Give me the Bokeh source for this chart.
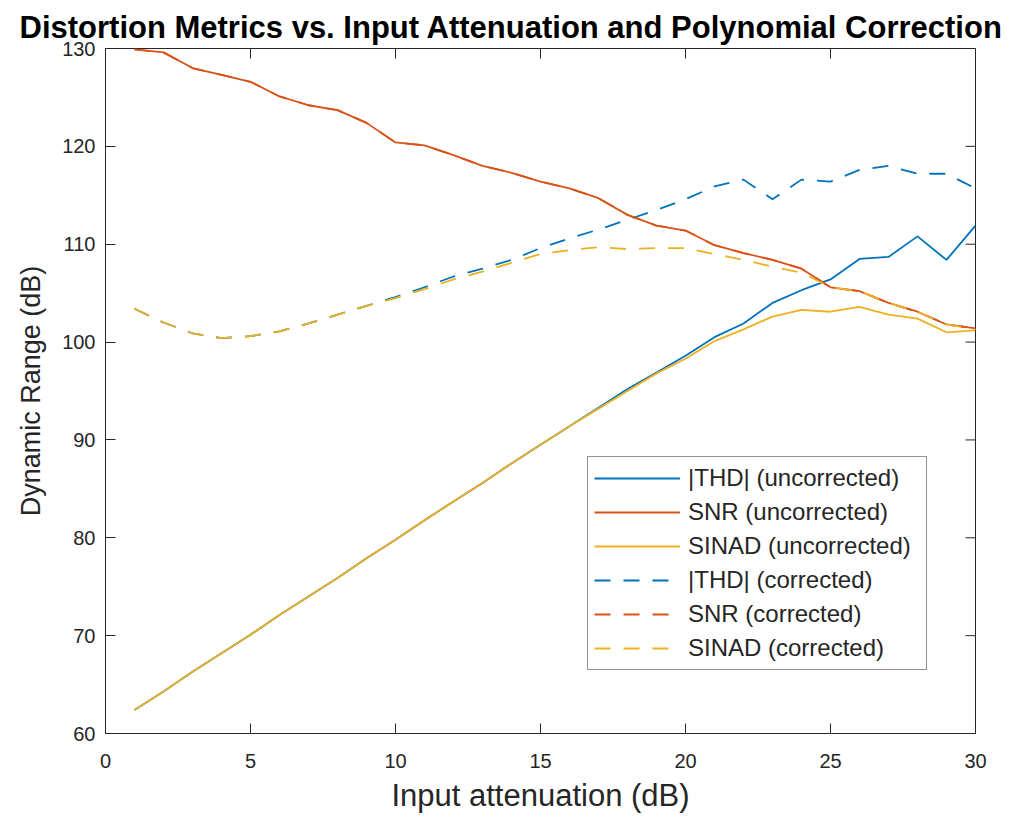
import math
from bokeh.plotting import figure
from bokeh.models import Range1d, FixedTicker
from bokeh.embed import file_html
from bokeh.resources import INLINE

# ---- data ----
atten = list(range(1, 31))
thd_unc = [62.4, 64.3, 66.3, 68.2, 70.1, 72.1, 74.0, 75.9, 77.9, 79.8,
           81.8, 83.7, 85.6, 87.6, 89.5, 91.4, 93.3, 95.2, 96.9, 98.6,
           100.5, 101.9, 104.0, 105.3, 106.4, 108.5, 108.7, 110.8, 108.4, 111.9]
snr_unc = [129.9, 129.6, 128.0, 127.3, 126.6, 125.1, 124.2, 123.7, 122.4, 120.4,
           120.1, 119.1, 118.0, 117.3, 116.4, 115.7, 114.7, 113.0, 111.9, 111.4,
           109.9, 109.1, 108.4, 107.5, 105.6, 105.2, 104.0, 103.1, 101.8, 101.4]
sinad_unc = [62.4, 64.3, 66.3, 68.2, 70.1, 72.1, 74.0, 75.9, 77.9, 79.8,
             81.8, 83.7, 85.6, 87.6, 89.5, 91.4, 93.2, 95.0, 96.8, 98.3,
             100.1, 101.3, 102.6, 103.3, 103.1, 103.6, 102.8, 102.4, 101.0, 101.2]
thd_cor = [103.4, 102.0, 100.9, 100.4, 100.6, 101.1, 101.9, 102.8, 103.7, 104.6,
           105.6, 106.7, 107.5, 108.4, 109.6, 110.6, 111.5, 112.5, 113.5, 114.6,
           115.9, 116.6, 114.6, 116.6, 116.4, 117.6, 118.0, 117.2, 117.2, 115.7]
snr_cor = [129.9, 129.6, 128.0, 127.3, 126.6, 125.1, 124.2, 123.7, 122.4, 120.4,
           120.1, 119.1, 118.0, 117.3, 116.4, 115.7, 114.7, 113.0, 111.9, 111.4,
           109.9, 109.1, 108.4, 107.5, 105.6, 105.2, 104.0, 103.1, 101.8, 101.4]
sinad_cor = [103.4, 102.0, 100.9, 100.4, 100.6, 101.1, 101.9, 102.8, 103.7, 104.5,
             105.4, 106.4, 107.2, 108.1, 109.0, 109.4, 109.7, 109.5, 109.6, 109.6,
             109.0, 108.4, 107.7, 107.1, 105.6, 105.2, 104.0, 103.1, 101.8, 101.3]
x_ticks = [0, 5, 10, 15, 20, 25, 30]
y_ticks = [60, 70, 80, 90, 100, 110, 120, 130]
X_MIN, X_MAX, Y_MIN, Y_MAX = 0, 30, 60, 130

BLUE, RED, YEL = "#0072BD", "#D95319", "#EDB120"
AX = "#262626"
FONT = "Liberation Sans"

p = figure(width=1015, height=815, x_range=Range1d(X_MIN, X_MAX), y_range=Range1d(Y_MIN, Y_MAX),
           output_backend="svg", toolbar_location=None,
           min_border_left=105, min_border_right=40, min_border_top=48, min_border_bottom=80)
p.background_fill_color = "white"
p.border_fill_color = "white"
p.outline_line_color = AX
p.outline_line_width = 1
p.xgrid.visible = False
p.ygrid.visible = False

p.title.text = "Distortion Metrics vs. Input Attenuation and Polynomial Correction"
p.title.align = "left"
p.title.offset = -86
p.title.text_font = FONT
p.title.text_font_size = "31px"
p.title.text_font_style = "bold"
p.title.text_color = "#000000"
p.title.standoff = 8

for ax in (p.xaxis[0], p.yaxis[0]):
    ax.major_tick_in = 10
    ax.major_tick_out = 0
    ax.minor_tick_in = 0
    ax.minor_tick_out = 0
    ax.major_tick_line_color = AX
    ax.axis_line_color = AX
    ax.major_label_text_font = FONT
    ax.major_label_text_color = AX
    ax.major_label_text_font_size = "20px"
    ax.axis_label_text_font = FONT
    ax.axis_label_text_color = AX
    ax.axis_label_text_font_style = "normal"

p.xaxis.ticker = FixedTicker(ticks=x_ticks)
p.yaxis.ticker = FixedTicker(ticks=y_ticks)
p.xaxis.axis_label = "Input attenuation (dB)"
p.yaxis.axis_label = "Dynamic Range (dB)"
p.xaxis.axis_label_text_font_size = "31px"
p.yaxis.axis_label_text_font_size = "27px"
p.xaxis.major_label_standoff = 20
p.yaxis.major_label_standoff = 10
p.xaxis.axis_label_standoff = 7
p.yaxis.axis_label_standoff = 13

# mirrored inward ticks on top and right edges of the box
p.ray(x=x_ticks, y=[Y_MAX] * len(x_ticks), length=10, length_units="screen",
      angle=-math.pi / 2, line_color=AX, line_width=1)
p.ray(x=[X_MAX] * len(y_ticks), y=y_ticks, length=10, length_units="screen",
      angle=math.pi, line_color=AX, line_width=1)

LW = 1.8
DASH = "16 13"
p.line(atten, thd_unc, line_color=BLUE, line_width=LW, legend_label="|THD| (uncorrected)")
p.line(atten, snr_unc, line_color=RED, line_width=LW, legend_label="SNR (uncorrected)")
p.line(atten, sinad_unc, line_color=YEL, line_width=LW, legend_label="SINAD (uncorrected)")
p.line(atten, thd_cor, line_color=BLUE, line_width=LW, line_dash=DASH, legend_label="|THD| (corrected)")
p.line(atten, snr_cor, line_color=RED, line_width=LW, line_dash=DASH, legend_label="SNR (corrected)")
p.line(atten, sinad_cor, line_color=YEL, line_width=LW, line_dash=DASH, legend_label="SINAD (corrected)")

lg = p.legend[0]
lg.location = (482, 63)
lg.border_line_color = AX
lg.border_line_width = 1
lg.background_fill_color = "white"
lg.background_fill_alpha = 1
lg.label_text_font = FONT
lg.label_text_font_size = "24px"
lg.label_text_color = AX
lg.glyph_width = 86
lg.glyph_height = 30
lg.label_height = 30
lg.label_standoff = 8
lg.label_width = 232
lg.spacing = 4
lg.padding = 6
lg.margin = 0

open("out.html", "w").write(file_html(p, INLINE))
